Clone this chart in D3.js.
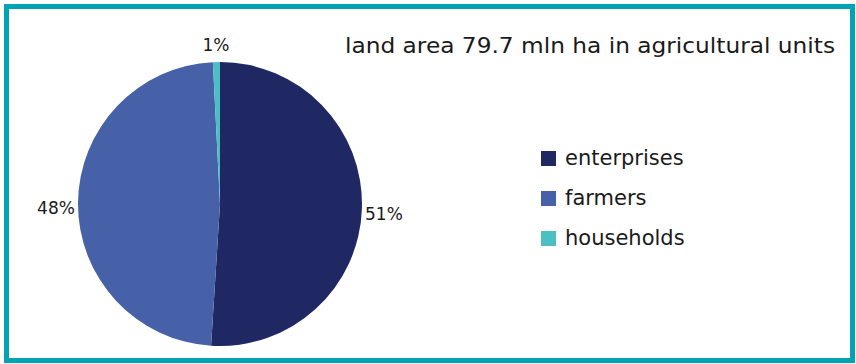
<!DOCTYPE html>
<html>
<head>
<meta charset="utf-8">
<script src="https://cdn.jsdelivr.net/npm/d3@7"></script>
<style>
  body { margin: 0; background: #fff; }
  svg { display: block; }
  text { font-family: "DejaVu Sans", sans-serif; fill: #1a1a1a; }
</style>
</head>
<body>
<svg id="mainSVG" width="856" height="364"></svg>
<script>
var categories = ['enterprises', 'farmers', 'households'];
var shares = [51.0, 48.2, 0.8];
var shareLabels = ['51%', '48%', '1%'];
var colors = ['#1f2862', '#4661a8', '#4bbfc3'];
var title = 'land area 79.7 mln ha in agricultural units';

var $svg = d3.select('#mainSVG');
var cx = 220, cy = 204, radius = 142, labelR = 164;

// frame
$svg.append('rect')
    .attr('x', 6.5).attr('y', 6.5)
    .attr('width', 846).attr('height', 354)
    .attr('fill', '#fff')
    .attr('stroke', '#00a3b1')
    .attr('stroke-width', 5);

var pie = d3.pie().sort(null).value(d => d);
var arc = d3.arc().innerRadius(0).outerRadius(radius);
var labelArc = d3.arc().innerRadius(labelR).outerRadius(labelR);

var slices = pie(shares);

var $pie = $svg.append('g').attr('transform', `translate(${cx} ${cy})`);

$pie.selectAll('path').data(slices).enter().append('path')
    .attr('d', arc)
    .attr('fill', (d, i) => colors[i]);

$pie.selectAll('text').data(slices).enter().append('text')
    .attr('x', d => labelArc.centroid(d)[0])
    .attr('y', d => labelArc.centroid(d)[1] + 5)
    .attr('text-anchor', 'middle')
    .attr('dy', '0.35em')
    .attr('font-size', 17)
    .text((d, i) => shareLabels[i]);

// title
$svg.append('text')
    .attr('x', 345).attr('y', 53)
    .attr('font-size', 21)
    .attr('textLength', 490)
    .attr('lengthAdjust', 'spacingAndGlyphs')
    .text(title);

// legend
var legendY = d3.scalePoint().domain(categories).range([158, 238]);
var $legend = $svg.append('g').attr('id', 'legend')
    .selectAll('g').data(categories).enter().append('g')
    .attr('transform', d => `translate(541 ${legendY(d)})`);

$legend.append('rect')
    .attr('x', 0).attr('y', -7)
    .attr('width', 15).attr('height', 15)
    .attr('fill', (d, i) => colors[i]);

$legend.append('text')
    .attr('x', 24).attr('y', 0)
    .attr('dy', '0.35em')
    .attr('font-size', 21)
    .text(d => d);
</script>
</body>
</html>
